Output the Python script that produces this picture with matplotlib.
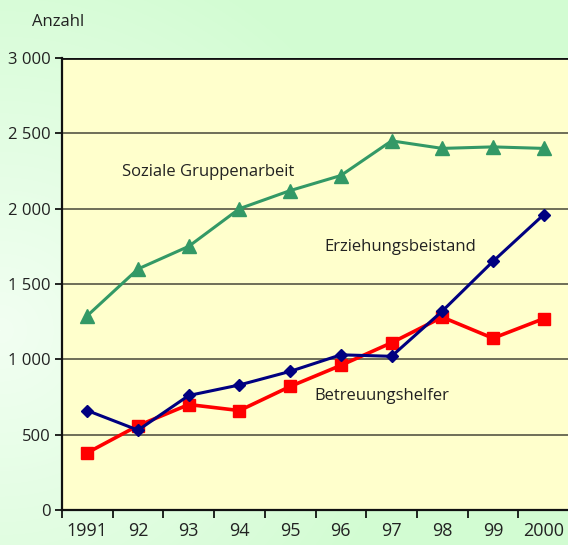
import numpy as np
import matplotlib
matplotlib.use("Agg")
import matplotlib.pyplot as plt
from matplotlib.colors import to_rgb

plt.rcParams['font.family'] = ['Open Sans', 'DejaVu Sans']

years = ['1991', '92', '93', '94', '95', '96', '97', '98', '99', '2000']
gruppenarbeit = [1290, 1600, 1750, 2000, 2120, 2220, 2450, 2400, 2410, 2400]
erziehungsbeistand = [660, 530, 760, 830, 920, 1030, 1020, 1320, 1650, 1960]
betreuungshelfer = [380, 560, 700, 660, 820, 960, 1110, 1280, 1140, 1270]
y_ticks = [0, 500, 1000, 1500, 2000, 2500, 3000]
y_labels = ['0', '500', '1 000', '1 500', '2 000', '2 500', '3 000']

W, H = 568, 545
fig = plt.figure(figsize=(W / 100, H / 100), dpi=100)

# light green gradient background, lightest at the left middle
bg = fig.add_axes([0, 0, 1, 1], zorder=-10)
yy, xx = np.mgrid[0:H, 0:W]
d = np.sqrt(((xx - 0) / W) ** 2 + ((yy - 330) / H) ** 2)
t = np.clip(d / 0.75, 0, 1)[..., None]
light = np.array(to_rgb('#f2fff2'))
dark = np.array(to_rgb('#d2fcd2'))
bg.imshow(light * (1 - t) + dark * t, aspect='auto', extent=[0, 1, 0, 1])
bg.axis('off')

ax = fig.add_axes([62 / W, 1 - 510 / H, 507 / W, 452 / H])
ax.set_facecolor('#ffffcc')

x = np.arange(len(years))
ax.plot(x, gruppenarbeit, color='#339966', lw=2.2, marker='^', ms=9.5, zorder=3)
ax.plot(x, erziehungsbeistand, color='#000080', lw=2.2, marker='D', ms=6, zorder=4)
ax.plot(x, betreuungshelfer, color='#ff0000', lw=2.6, marker='s', ms=8.5, zorder=3)

ax.text(0.69, 2243, 'Soziale Gruppenarbeit', fontsize=12, color='#222222', va='center')
ax.text(4.67, 1746, 'Erziehungsbeistand', fontsize=12, color='#222222', va='center')
ax.text(4.48, 757, 'Betreuungshelfer', fontsize=12, color='#222222', va='center')

ax.set_xlim(-0.5, len(years) - 0.5)
ax.set_ylim(0, 3000)
ax.set_yticks(y_ticks)
ax.set_yticklabels(y_labels, fontsize=12, color='#222222')
ax.set_xticks(x)
ax.set_xticklabels(years, fontsize=13, color='#222222')
ax.set_xticks(np.arange(len(years) + 1) - 0.5, minor=True)
ax.tick_params(axis='x', which='major', length=0, pad=9)
ax.tick_params(axis='x', which='minor', length=6, width=1.2, direction='out')
ax.tick_params(axis='y', length=5, width=1.2, direction='out', pad=3)

for v in y_ticks[1:-1]:
    ax.axhline(v, color='#555544', lw=1.2, zorder=1)
ax.axhline(3000, color='#111111', lw=2, zorder=1)

for s in ['right', 'top']:
    ax.spines[s].set_visible(False)
for s in ['left', 'bottom']:
    ax.spines[s].set_linewidth(1.6)
    ax.spines[s].set_color('#111111')

fig.text(32 / W, 1 - 22 / H, 'Anzahl', fontsize=12, color='#222222', va='center')

fig.savefig('out.png', dpi=100)
